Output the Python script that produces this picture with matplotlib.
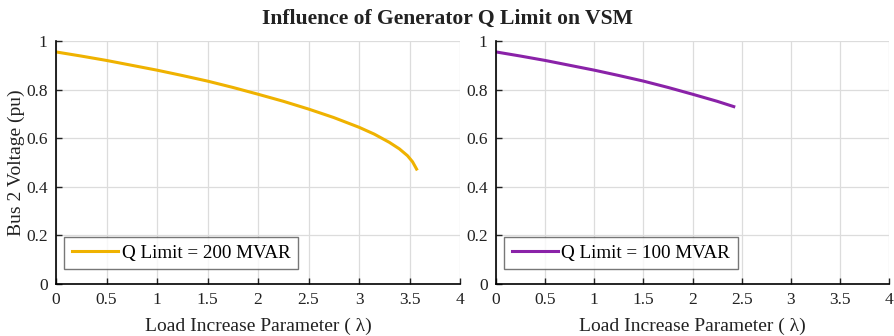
import matplotlib
matplotlib.use("Agg")
import matplotlib.pyplot as plt

plt.rcParams['font.family'] = ['Liberation Serif', 'DejaVu Serif']

# PV curve with Q limit = 200 MVAR
lam_200 = [0.0, 0.25, 0.5, 0.75, 1.0, 1.25, 1.5, 1.75, 2.0, 2.25, 2.5, 2.75,
           3.0, 3.15, 3.3, 3.4, 3.48, 3.53, 3.57]
v_200 = [0.955, 0.938, 0.920, 0.900, 0.880, 0.858, 0.835, 0.809, 0.781, 0.752,
         0.720, 0.685, 0.645, 0.617, 0.583, 0.556, 0.528, 0.503, 0.473]

# PV curve with Q limit = 100 MVAR
lam_100 = [0.0, 0.25, 0.5, 0.75, 1.0, 1.25, 1.5, 1.75, 2.0, 2.25, 2.42]
v_100 = [0.955, 0.938, 0.920, 0.900, 0.880, 0.858, 0.835, 0.809, 0.781, 0.752, 0.730]

xticks = [0, 0.5, 1, 1.5, 2, 2.5, 3, 3.5, 4]
xtick_labels = ['0', '0.5', '1', '1.5', '2', '2.5', '3', '3.5', '4']
yticks = [0, 0.2, 0.4, 0.6, 0.8, 1]
ytick_labels = ['0', '0.2', '0.4', '0.6', '0.8', '1']

fig = plt.figure(figsize=(8.94, 3.36), dpi=100)
ax1 = fig.add_axes([56 / 894, 52 / 336, 404 / 894, 243 / 336])
ax2 = fig.add_axes([496 / 894, 52 / 336, 393 / 894, 243 / 336])

panels = [
    (ax1, lam_200, v_200, '#EFB200', 'Q Limit = 200 MVAR'),
    (ax2, lam_100, v_100, '#8A22A8', 'Q Limit = 100 MVAR'),
]

for ax, x, y, color, label in panels:
    ax.plot(x, y, color=color, lw=2.2, label=label)
    ax.set_xlim(0, 4)
    ax.set_ylim(0, 1)
    ax.set_xticks(xticks)
    ax.set_xticklabels(xtick_labels)
    ax.set_yticks(yticks)
    ax.set_yticklabels(ytick_labels)
    ax.grid(True, color='#dcdcdc', lw=0.9)
    ax.set_axisbelow(True)
    for side in ('top', 'right'):
        ax.spines[side].set_visible(False)
    for side in ('left', 'bottom'):
        ax.spines[side].set_linewidth(1.2)
        ax.spines[side].set_color('black')
    ax.tick_params(direction='in', length=4, width=1.0, labelsize=12.5, colors='#222222', pad=6)
    ax.set_xlabel('Load Increase Parameter ( λ)', fontsize=14, color='#222222', labelpad=7)
    leg = ax.legend(loc='lower left', bbox_to_anchor=(0.02, 0.06), fontsize=13.8,
                    frameon=True, fancybox=False, handlelength=2.4, handletextpad=0.2,
                    borderpad=0.4, borderaxespad=0.0)
    leg.get_frame().set_edgecolor('#555555')
    leg.get_frame().set_linewidth(1.0)

ax1.set_ylabel('Bus 2 Voltage (pu)', fontsize=14, color='#222222', labelpad=1)

fig.suptitle('Influence of Generator Q Limit on VSM', fontsize=15.6, fontweight='bold',
             color='#222222', y=0.975)

fig.savefig('out.png', dpi=100)
